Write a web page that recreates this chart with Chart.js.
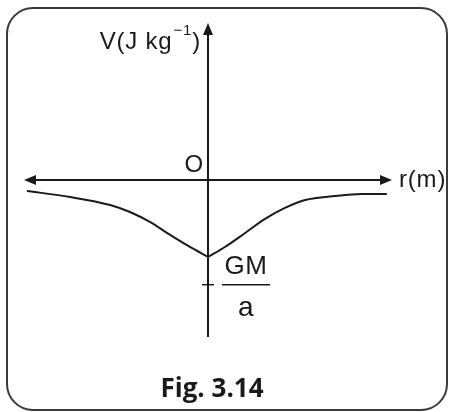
<!DOCTYPE html>
<html>
<head>
<meta charset="utf-8">
<script src="https://cdn.jsdelivr.net/npm/chart.js@4/dist/chart.umd.min.js"></script>
<style>
  html, body { margin: 0; padding: 0; background: #fff; }
  #wrap { width: 449px; height: 412px; }
</style>
</head>
<body>
<div id="wrap"><canvas id="potentialChart" width="449" height="412"></canvas></div>
<script>
// Potential V(r) along the axis, left and right branches meet at r = 0
const leftR  = [-4.92, -3.75, -2.66, -2.12, -1.58, -1.03, -0.49, 0];
const leftV  = [-0.105, -0.162, -0.239, -0.306, -0.401, -0.525, -0.640, -0.735];
const rightR = [0, 0.46, 1.01, 1.55, 2.09, 2.64, 3.45, 4.18, 4.86];
const rightV = [-0.735, -0.640, -0.506, -0.372, -0.267, -0.191, -0.153, -0.134, -0.134];

// Axis extents and the marked level -GM/a
const rExtent = 5;
const vExtent = 1.5;
const gmLevel = -1;

const axisLabels = {
    v: 'V(J kg',
    vExp: '\u22121',
    r: 'r(m)',
    origin: 'O',
    num: 'GM',
    den: 'a',
    caption: 'Fig. 3.14'
};

const ink = '#1a1a1a';
const sans = '"Liberation Sans", Arial, sans-serif';

function toPoints(xs, ys) {
    return xs.map((x, i) => ({ x: x, y: ys[i] }));
}

function arrow(ctx, x, y, dir) {
    // dir: 'up' | 'left' | 'right'
    const len = 12, half = 5;
    ctx.beginPath();
    if (dir === 'up') {
        ctx.moveTo(x, y);
        ctx.lineTo(x - half, y + len);
        ctx.lineTo(x + half, y + len);
    } else if (dir === 'left') {
        ctx.moveTo(x, y);
        ctx.lineTo(x + len, y - half);
        ctx.lineTo(x + len, y + half);
    } else {
        ctx.moveTo(x, y);
        ctx.lineTo(x - len, y - half);
        ctx.lineTo(x - len, y + half);
    }
    ctx.closePath();
    ctx.fill();
}

const figurePlugin = {
    id: 'figure',
    beforeDraw(chart) {
        const ctx = chart.ctx;
        ctx.save();
        ctx.fillStyle = '#fff';
        ctx.fillRect(0, 0, chart.width, chart.height);
        // rounded frame
        ctx.strokeStyle = '#3a3a3a';
        ctx.lineWidth = 2;
        ctx.beginPath();
        ctx.roundRect(7, 8, 440, 402, 26);
        ctx.stroke();
        ctx.restore();
    },
    afterDraw(chart) {
        const ctx = chart.ctx;
        const xs = chart.scales.x, ys = chart.scales.y;
        const x0 = xs.getPixelForValue(0);
        const y0 = ys.getPixelForValue(0);
        const xl = xs.getPixelForValue(-rExtent);
        const xr = xs.getPixelForValue(rExtent);
        const yt = ys.getPixelForValue(vExtent);
        const yb = ys.getPixelForValue(-vExtent);
        const yg = ys.getPixelForValue(gmLevel);

        ctx.save();
        ctx.strokeStyle = ink;
        ctx.fillStyle = ink;
        ctx.lineWidth = 2;

        // axes
        ctx.beginPath();
        ctx.moveTo(x0, yb);
        ctx.lineTo(x0, yt + 6);
        ctx.moveTo(xl + 6, y0);
        ctx.lineTo(xr - 6, y0);
        ctx.stroke();
        arrow(ctx, x0, yt, 'up');
        arrow(ctx, xl, y0, 'left');
        arrow(ctx, xr, y0, 'right');

        // tick at -GM/a
        ctx.lineWidth = 1.5;
        ctx.beginPath();
        ctx.moveTo(x0 - 6, yg);
        ctx.lineTo(x0 + 6, yg);
        ctx.stroke();

        // axis titles
        ctx.textBaseline = 'alphabetic';
        ctx.letterSpacing = '0.8px';
        ctx.font = '24px ' + sans;
        const mainW = ctx.measureText(axisLabels.v).width;
        const closeW = ctx.measureText(')').width;
        ctx.font = '15px ' + sans;
        const expW = ctx.measureText(axisLabels.vExp).width;
        const endX = x0 - 7;
        const startX = endX - closeW - expW - 1 - mainW;
        const vBase = 49;
        ctx.font = '24px ' + sans;
        ctx.textAlign = 'left';
        ctx.fillText(axisLabels.v, startX, vBase);
        ctx.fillText(')', endX - closeW, vBase);
        ctx.font = '15px ' + sans;
        ctx.fillText(axisLabels.vExp, startX + mainW + 1, vBase - 14);

        ctx.font = '24px ' + sans;
        ctx.textAlign = 'right';
        ctx.fillText(axisLabels.origin, x0 - 4, y0 - 8);

        ctx.textAlign = 'left';
        ctx.fillText(axisLabels.r, xr + 7, y0 + 7);

        // fraction GM / a
        ctx.letterSpacing = '0.5px';
        ctx.font = '26px ' + sans;
        ctx.textAlign = 'center';
        const fx = x0 + 38;
        ctx.fillText(axisLabels.num, fx, yg - 11);
        ctx.lineWidth = 1.5;
        ctx.beginPath();
        ctx.moveTo(fx - 24, yg);
        ctx.lineTo(fx + 24, yg);
        ctx.stroke();
        ctx.font = '28px ' + sans;
        ctx.fillText(axisLabels.den, fx, yg + 31);

        // caption
        ctx.letterSpacing = '0px';
        ctx.font = 'bold 26px "Open Sans", "Noto Sans", sans-serif';
        ctx.fillText(axisLabels.caption, 212, 397);
        ctx.restore();
    }
};

const lineStyle = {
    borderColor: ink,
    borderWidth: 2,
    pointRadius: 0,
    fill: false,
    cubicInterpolationMode: 'monotone'
};

new Chart(document.getElementById('potentialChart'), {
    type: 'line',
    data: {
        datasets: [
            Object.assign({ data: toPoints(leftR, leftV) }, lineStyle),
            Object.assign({ data: toPoints(rightR, rightV) }, lineStyle)
        ]
    },
    options: {
        responsive: false,
        animation: false,
        devicePixelRatio: 1,
        layout: { padding: { left: 24, right: 57, top: 23, bottom: 75 } },
        scales: {
            x: { type: 'linear', min: -rExtent, max: rExtent, display: false },
            y: { type: 'linear', min: -vExtent, max: vExtent, display: false }
        },
        plugins: {
            legend: { display: false },
            tooltip: { enabled: false }
        },
        clip: false
    },
    plugins: [figurePlugin]
});
</script>
</body>
</html>
